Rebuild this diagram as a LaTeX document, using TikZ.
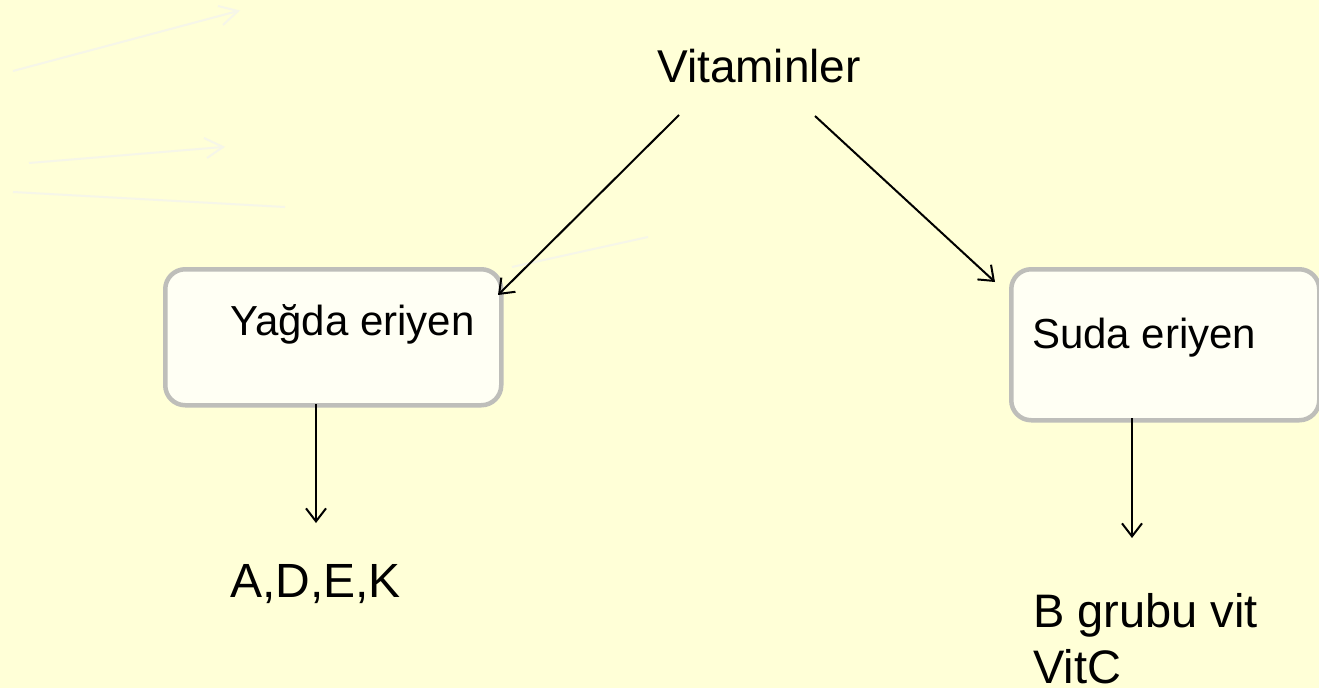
\documentclass[tikz,border=0pt]{standalone}
\usepackage{fontspec}
\setmainfont{Liberation Sans}
\usetikzlibrary{arrows.meta}

\definecolor{bggelb}{RGB}{255,255,215}
\definecolor{boxfill}{RGB}{255,255,244}
\definecolor{boxrand}{RGB}{190,190,186}
\definecolor{blass}{RGB}{246,246,232}

\begin{document}
\begin{tikzpicture}[x=1pt,y=-1pt,
	pfeil/.style={-{Straight Barb[length=13pt,width=20pt,line width=2pt]},line width=2pt},
	kasten/.style={draw=boxrand,fill=boxfill,line width=4.5pt,rounded corners=20pt,inner sep=0pt,anchor=north west},
	txt/.style={inner sep=0pt,anchor=base west},
	blasslinie/.style={draw=blass,line width=2pt}]
	\useasboundingbox[fill=bggelb] (0,0) rectangle (1319,688);
	
	%Hintergrund
	\draw[blasslinie] (13,71) -- (238,11);
	\draw[blasslinie] (218,6) -- (238,11) -- (223,25);
	\draw[blasslinie] (29,163) -- (223,147);
	\draw[blasslinie] (204,138) -- (223,147) -- (207,158);
	\draw[blasslinie] (13,192) -- (285,207);
	\draw[blasslinie] (512,267) -- (648,237);
	
	%Kaesten
	\node[kasten,minimum width=336pt,minimum height=136pt] (yag) at (163,267) {};
	\node[kasten,minimum width=308pt,minimum height=151pt] (suda) at (1009,267) {};
	
	%Texte
	\node[txt,font=\fontsize{46}{55}\selectfont] (vit) at (657,82) {Vitaminler};
	\node[txt,font=\fontsize{42}{50}\selectfont] (yagtxt) at (230,335) {Yağda eriyen};
	\node[txt,font=\fontsize{42}{50}\selectfont] (sudatxt) at (1032,348) {Suda eriyen};
	\node[txt,font=\fontsize{48}{57}\selectfont] (adek) at (230,597) {A,D,E,K};
	\node[txt,font=\fontsize{47}{56}\selectfont,align=left] (bgrup) at (1033,683) {B grubu vit\\VitC};
	
	%Pfeile
	\coordinate (v1) at (679,115);
	\coordinate (v2) at (815,116);
	\coordinate (y1) at (498,295);
	\coordinate (s1) at (995,282);
	\coordinate (y2) at (316,404);
	\coordinate (a1) at (316,523);
	\coordinate (s2) at (1132,418);
	\coordinate (b1) at (1132,538);
	\draw[pfeil] (v1) -- (y1);
	\draw[pfeil] (v2) -- (s1);
	\draw[pfeil] (y2) -- (a1);
	\draw[pfeil] (s2) -- (b1);
	
\end{tikzpicture}
\end{document}
